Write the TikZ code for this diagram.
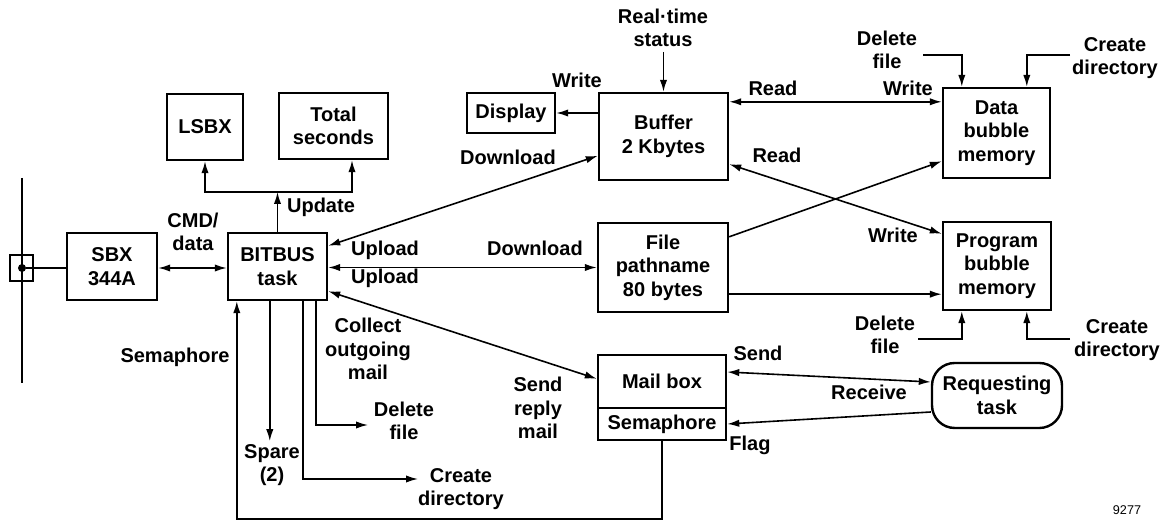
\documentclass[tikz,border=0pt]{standalone}
\usepackage{fontspec}
\setmainfont{Liberation Sans}
\usetikzlibrary{arrows.meta,calc}
\begin{document}
\begin{tikzpicture}[x=0.75pt,y=-0.75pt,
  lbl/.style={font=\fontsize{15}{17.5}\selectfont\bfseries, align=center, inner sep=0pt},
  box/.style={draw, line width=1.8pt, lbl},
  con/.style={line width=1.2pt},
  arr/.style={con,-{Latex[length=9pt,width=5.5pt]}},
  darr/.style={con,{Latex[length=9pt,width=5.5pt]}-{Latex[length=9pt,width=5.5pt]}},
]
\useasboundingbox (0,0) rectangle (1167,523);

% ---- boxes
\node[box, minimum width=67.5pt, minimum height=50.25pt] (sbx) at (112,266.5) {SBX\\344A};
\node[box, minimum width=74.25pt, minimum height=50.25pt] (bitbus) at (277.5,266.5) {BITBUS\\task};
\node[box, minimum width=57pt, minimum height=49.5pt] (lsbx) at (205,127) {LSBX};
\node[box, minimum width=81.75pt, minimum height=49.5pt] (total) at (333.5,126) {Total\\seconds};
\node[box, minimum width=66pt, minimum height=30pt] (display) at (511,113) {Display};
\node[box, minimum width=96.75pt, minimum height=65.25pt] (buffer) at (663.5,136.5) {Buffer\\2 Kbytes};
\node[box, minimum width=97.5pt, minimum height=66.75pt] (file) at (663,267.5) {File\\pathname\\80 bytes};
\node[box, minimum width=80.25pt, minimum height=67.5pt] (data) at (996.5,133) {Data\\bubble\\memory};
\node[box, minimum width=81pt, minimum height=66pt] (program) at (997,266) {Program\\bubble\\memory};
\node[box, minimum width=96pt, minimum height=39.75pt] (mail) at (662,381.5) {Mail box};
\node[box, minimum width=96pt, minimum height=24pt] (sema) at (662,424) {Semaphore};
\node[box, rounded corners=17pt, minimum width=97.5pt, minimum height=48.75pt] (req) at (997,395.5) {Requesting\\task};

% ---- bus connector
\coordinate (bustop) at (22,178);
\coordinate (busbot) at (22,383);
\draw[con] (bustop) -- (busbot);
\node[draw, line width=1.5pt, minimum width=17pt, minimum height=19.5pt, inner sep=0pt] (conn) at (21.5,268) {};
\node[circle, fill, inner sep=0pt, minimum size=6pt] (dot) at (22,268) {};
\draw[con] (dot) -- (sbx.west |- dot);

% ---- labels
\node[lbl] (cmd) at (193,232) {CMD/\\data};
\node[lbl] (semal) at (175,357) {Semaphore};
\node[lbl] (upd-l) at (321,207) {Update};
\node[lbl] (rt) at (663,28) {Real·time\\status};
\node[lbl] (wr1) at (577,80) {Write};
\node[lbl] (dl1) at (508,157) {Download};
\node[lbl] (ul1) at (385,250) {Upload};
\node[lbl] (ul2) at (385,278) {Upload};
\node[lbl] (dl2) at (535,248) {Download};
\node[lbl] (rd1) at (773,88) {Read};
\node[lbl] (wr2) at (908,88) {Write};
\node[lbl] (rd2) at (777,155) {Read};
\node[lbl] (wr3) at (893,235) {Write};
\node[lbl] (df1) at (887,50) {Delete\\file};
\node[lbl] (cd1) at (1115,58) {Create\\directory};
\node[lbl] (df2) at (885,335) {Delete\\file};
\node[lbl] (cd2) at (1117,340) {Create\\directory};
\node[lbl] (coll) at (368,349) {Collect\\outgoing\\mail};
\node[lbl] (df3) at (404,421) {Delete\\file};
\node[lbl] (spare) at (272,465) {Spare\\(2)};
\node[lbl] (cd3) at (461,489) {Create\\directory};
\node[lbl] (srm) at (538,408) {Send\\reply\\mail};
\node[lbl] (send) at (758,353) {Send};
\node[lbl] (recv) at (869,392) {Receive};
\node[lbl] (flag) at (750,445) {Flag};
\node[font=\fontsize{9.5}{11}\selectfont, inner sep=0pt] (fig) at (1127,510) {9277};

% ---- connectors
\draw[darr] (sbx.east |- dot) -- (bitbus.west |- dot);

\coordinate (upd) at (277.5,192);
\draw[arr] (bitbus.north) -- (upd);
\draw[arr] (upd) -| (lsbx.south);
\draw[arr] (upd) -| ($(total.south)+(18.5,0)$);

\coordinate (rtsrc) at (663.5,52);
\draw[arr] (rtsrc) -- (buffer.north);
\draw[arr] (buffer.west |- display.east) -- (display.east);

\draw[darr] ($(bitbus.north east)+(0,14)$) -- ($(buffer.north west)+(0,64)$);
\draw[darr] (bitbus.east |- file.west) -- (file.west);
\draw[darr] ($(bitbus.south east)+(0,-10)$) -- ($(mail.north west)+(0,25)$);

\draw[darr] ($(buffer.north east)+(0,10)$) -- ($(data.north west)+(0,15)$);
\draw[darr] ($(buffer.south east)+(0,-17)$) -- ($(program.north west)+(0,13)$);
\draw[arr] ($(file.north east)+(0,15)$) -- ($(data.south west)+(0,-18)$);
\draw[arr] ($(file.south east)+(0,-19)$) -- ($(program.west |- file.south east)+(0,-19)$);

\coordinate (df1s) at (923,55);
\coordinate (cd1s) at (1070,55);
\draw[arr] (df1s) -| ($(data.north west)+(20,0)$);
\draw[arr] (cd1s) -| ($(data.north west)+(85,0)$);
\coordinate (df2s) at (918,339);
\coordinate (cd2s) at (1070,339);
\draw[arr] (df2s) -| ($(program.south west)+(20,0)$);
\draw[arr] (cd2s) -| ($(program.south west)+(85,0)$);

\draw[arr] ($(bitbus.south west)+(43,0)$) -- ++(0,140);
\draw[arr] ($(bitbus.south west)+(76,0)$) |- (418,479);
\draw[arr] ($(bitbus.south west)+(89,0)$) |- (368,425);
\draw[arr] (sema.south) -- ++(0,78) -| ($(bitbus.south west)+(10,0)$);

\draw[darr] ($(mail.east)+(0,-9.5)$) -- ($(req.west)+(0,-13.5)$);
\draw[arr] ($(req.west)+(0,16.5)$) -- (sema.east);
\end{tikzpicture}
\end{document}
